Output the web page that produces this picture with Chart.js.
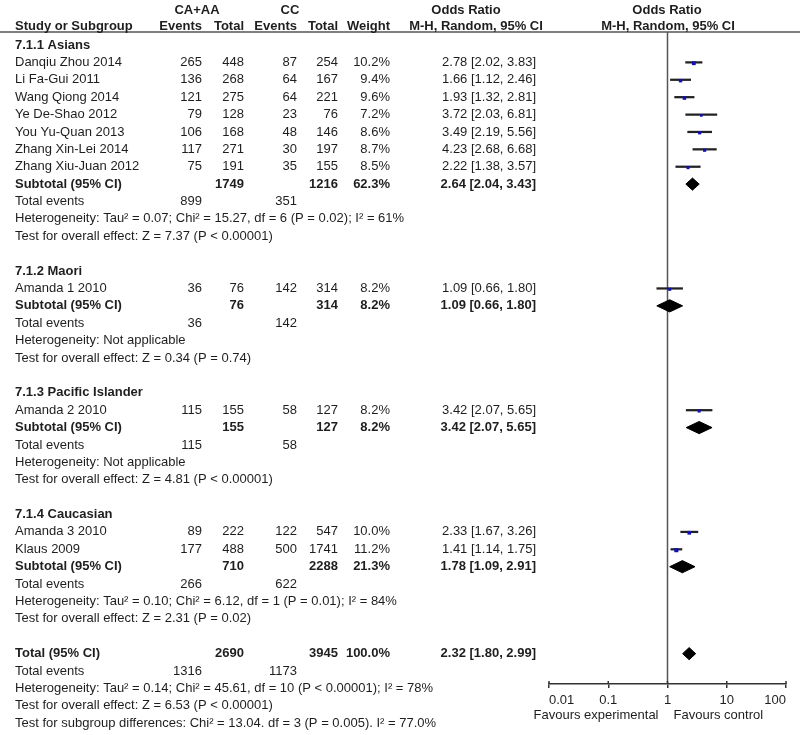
<!DOCTYPE html>
<html>
<head>
<meta charset="utf-8">
<title>Forest plot</title>
<script src="https://cdn.jsdelivr.net/npm/chart.js@4.4.1/dist/chart.umd.min.js"></script>
<style>
  html, body { margin: 0; padding: 0; background: #fff; }
  #wrap { width: 800px; height: 735px; }
</style>
</head>
<body>
<div id="wrap"><canvas id="forest" width="800" height="735"></canvas></div>
<script>
// ---- data ----
const groupNames = ["7.1.1 Asians", "7.1.2 Maori", "7.1.3 Pacific Islander", "7.1.4 Caucasian"];

const studyNames = [
    "Danqiu Zhou 2014", "Li Fa-Gui 2011", "Wang Qiong 2014", "Ye De-Shao 2012",
    "You Yu-Quan 2013", "Zhang Xin-Lei 2014", "Zhang Xiu-Juan 2012",
    "Amanda 1 2010", "Amanda 2 2010", "Amanda 3 2010", "Klaus 2009"
];
const studyGroup = [0, 0, 0, 0, 0, 0, 0, 1, 2, 3, 3];
const expEvents = [265, 136, 121, 79, 106, 117, 75, 36, 115, 89, 177];
const expTotal = [448, 268, 275, 128, 168, 271, 191, 76, 155, 222, 488];
const ctlEvents = [87, 64, 64, 23, 48, 30, 35, 142, 58, 122, 500];
const ctlTotal = [254, 167, 221, 76, 146, 197, 155, 314, 127, 547, 1741];
const weights = [10.2, 9.4, 9.6, 7.2, 8.6, 8.7, 8.5, 8.2, 8.2, 10.0, 11.2];
const orEst = [2.78, 1.66, 1.93, 3.72, 3.49, 4.23, 2.22, 1.09, 3.42, 2.33, 1.41];
const orLow = [2.02, 1.12, 1.32, 2.03, 2.19, 2.68, 1.38, 0.66, 2.07, 1.67, 1.14];
const orHigh = [3.83, 2.46, 2.81, 6.81, 5.56, 6.68, 3.57, 1.80, 5.65, 3.26, 1.75];

const groupExpTotal = [1749, 76, 155, 710];
const groupCtlTotal = [1216, 314, 127, 2288];
const groupWeight = [62.3, 8.2, 8.2, 21.3];
const groupExpEvents = [899, 36, 115, 266];
const groupCtlEvents = [351, 142, 58, 622];
const groupEst = [2.64, 1.09, 3.42, 1.78];
const groupLow = [2.04, 0.66, 2.07, 1.09];
const groupHigh = [3.43, 1.80, 5.65, 2.91];
const groupHet = [
    "Heterogeneity: Tau\u00b2 = 0.07; Chi\u00b2 = 15.27, df = 6 (P = 0.02); I\u00b2 = 61%",
    "Heterogeneity: Not applicable",
    "Heterogeneity: Not applicable",
    "Heterogeneity: Tau\u00b2 = 0.10; Chi\u00b2 = 6.12, df = 1 (P = 0.01); I\u00b2 = 84%"
];
const groupTest = [
    "Test for overall effect: Z = 7.37 (P < 0.00001)",
    "Test for overall effect: Z = 0.34 (P = 0.74)",
    "Test for overall effect: Z = 4.81 (P < 0.00001)",
    "Test for overall effect: Z = 2.31 (P = 0.02)"
];

const totalExpTotal = 2690;
const totalCtlTotal = 3945;
const totalWeight = 100.0;
const totalExpEvents = 1316;
const totalCtlEvents = 1173;
const totalEst = 2.32;
const totalLow = 1.80;
const totalHigh = 2.99;
const totalHet = "Heterogeneity: Tau\u00b2 = 0.14; Chi\u00b2 = 45.61, df = 10 (P < 0.00001); I\u00b2 = 78%";
const totalTest = "Test for overall effect: Z = 6.53 (P < 0.00001)";
const subgroupTest = "Test for subgroup differences: Chi\u00b2 = 13.04. df = 3 (P = 0.005). I\u00b2 = 77.0%";

const orTicks = [0.01, 0.1, 1, 10, 100];
const tickLabels = ["0.01", "0.1", "1", "10", "100"];

// ---- row layout ----
const groupRow = [], studyRow = [], subtotalRow = [], eventsRow = [], hetRow = [], testRow = [];
let row = 0;
groupNames.forEach(function (g, gi) {
    groupRow[gi] = row++;
    studyNames.forEach(function (s, i) {
        if (studyGroup[i] === gi) studyRow[i] = row++;
    });
    subtotalRow[gi] = row++;
    eventsRow[gi] = row++;
    hetRow[gi] = row++;
    testRow[gi] = row++;
    row++;
});
const totalRow = row++;
const totalEventsRow = row++;
const totalHetRow = row++;
const totalTestRow = row++;
const subgroupRow = row++;

const ROW0 = 45, ROW_H = 17.39;
const PLOT_TOP = 32, PLOT_BOTTOM = 684;
const DIAMOND_H = 0.35;

function fmtOR(e, l, h) {
    return e.toFixed(2) + " [" + l.toFixed(2) + ", " + h.toFixed(2) + "]";
}

function diamond(e, l, h, r) {
    return [
        { x: l, y: r }, { x: e, y: r - DIAMOND_H }, { x: h, y: r },
        { x: e, y: r + DIAMOND_H }, { x: l, y: r }
    ];
}

const datasets = [];

datasets.push({
    type: "bar",
    indexAxis: "y",
    data: studyNames.map(function (s, i) {
        return { x: [orLow[i], orHigh[i]], y: studyRow[i] };
    }),
    backgroundColor: "#222",
    borderWidth: 0,
    barThickness: 1.6,
    order: 2
});

datasets.push({
    type: "scatter",
    data: studyNames.map(function (s, i) {
        return { x: orEst[i], y: studyRow[i] + 0.05 };
    }),
    pointStyle: "rect",
    pointRadius: weights.map(function (w) { return w * 0.26; }),
    backgroundColor: "#1010b4",
    borderColor: "#1010b4",
    borderWidth: 0,
    order: 0
});

groupNames.forEach(function (g, gi) {
    datasets.push({
        type: "scatter",
        data: diamond(groupEst[gi], groupLow[gi], groupHigh[gi], subtotalRow[gi]),
        showLine: true,
        fill: "shape",
        backgroundColor: "#000",
        borderColor: "#000",
        borderWidth: 1,
        pointRadius: 0,
        order: 1
    });
});

datasets.push({
    type: "scatter",
    data: diamond(totalEst, totalLow, totalHigh, totalRow),
    showLine: true,
    fill: "shape",
    backgroundColor: "#000",
    borderColor: "#000",
    borderWidth: 1,
    pointRadius: 0,
    order: 1
});

// ---- table text, reference line, header rule ----
const FONT = '"Liberation Sans", Arial, sans-serif';
const COL = { study: 15, expEv: 202, expTot: 244, ctlEv: 297, ctlTot: 338, weight: 390, or: 536 };

const tablePlugin = {
    id: "forestTable",
    beforeDatasetsDraw: function (chart) {
        const ctx = chart.ctx;
        const xs = chart.scales.x;
        const ca = chart.chartArea;
        const x1 = xs.getPixelForValue(1);

        // header rule and line of no effect, under the marks
        ctx.save();
        ctx.strokeStyle = "#555";
        ctx.lineWidth = 1.5;
        ctx.beginPath();
        ctx.moveTo(0, ca.top);
        ctx.lineTo(800, ca.top);
        ctx.moveTo(x1, ca.top);
        ctx.lineTo(x1, ca.bottom);
        ctx.stroke();

        // upper half of the axis tick marks
        ctx.strokeStyle = "#333";
        ctx.beginPath();
        xs.ticks.forEach(function (t) {
            const x = xs.getPixelForValue(t.value);
            ctx.moveTo(x, ca.bottom - 3);
            ctx.lineTo(x, ca.bottom);
        });
        ctx.stroke();
        ctx.restore();
    },
    afterDraw: function (chart) {
        const ctx = chart.ctx;
        const xs = chart.scales.x;
        const ys = chart.scales.y;

        function txt(s, x, y, align, bold) {
            ctx.font = (bold ? "bold " : "") + "13px " + FONT;
            ctx.textAlign = align || "left";
            ctx.fillText(s, x, y);
        }

        ctx.save();
        ctx.fillStyle = "#1e1e1e";
        ctx.textBaseline = "middle";

        // header
        txt("CA+AA", 197, 10, "center", true);
        txt("CC", 290, 10, "center", true);
        txt("Odds Ratio", 466, 10, "center", true);
        txt("Odds Ratio", 667, 10, "center", true);
        txt("Study or Subgroup", COL.study, 26, "left", true);
        txt("Events", COL.expEv, 26, "right", true);
        txt("Total", COL.expTot, 26, "right", true);
        txt("Events", COL.ctlEv, 26, "right", true);
        txt("Total", COL.ctlTot, 26, "right", true);
        txt("Weight", COL.weight, 26, "right", true);
        txt("M-H, Random, 95% CI", 476, 26, "center", true);
        txt("M-H, Random, 95% CI", 668, 26, "center", true);

        groupNames.forEach(function (g, gi) {
            txt(g, COL.study, ys.getPixelForValue(groupRow[gi]), "left", true);

            let y = ys.getPixelForValue(subtotalRow[gi]);
            txt("Subtotal (95% CI)", COL.study, y, "left", true);
            txt(String(groupExpTotal[gi]), COL.expTot, y, "right", true);
            txt(String(groupCtlTotal[gi]), COL.ctlTot, y, "right", true);
            txt(groupWeight[gi].toFixed(1) + "%", COL.weight, y, "right", true);
            txt(fmtOR(groupEst[gi], groupLow[gi], groupHigh[gi]), COL.or, y, "right", true);

            y = ys.getPixelForValue(eventsRow[gi]);
            txt("Total events", COL.study, y);
            txt(String(groupExpEvents[gi]), COL.expEv, y, "right");
            txt(String(groupCtlEvents[gi]), COL.ctlEv, y, "right");

            txt(groupHet[gi], COL.study, ys.getPixelForValue(hetRow[gi]));
            txt(groupTest[gi], COL.study, ys.getPixelForValue(testRow[gi]));
        });

        studyNames.forEach(function (s, i) {
            const y = ys.getPixelForValue(studyRow[i]);
            txt(s, COL.study, y);
            txt(String(expEvents[i]), COL.expEv, y, "right");
            txt(String(expTotal[i]), COL.expTot, y, "right");
            txt(String(ctlEvents[i]), COL.ctlEv, y, "right");
            txt(String(ctlTotal[i]), COL.ctlTot, y, "right");
            txt(weights[i].toFixed(1) + "%", COL.weight, y, "right");
            txt(fmtOR(orEst[i], orLow[i], orHigh[i]), COL.or, y, "right");
        });

        let y = ys.getPixelForValue(totalRow);
        txt("Total (95% CI)", COL.study, y, "left", true);
        txt(String(totalExpTotal), COL.expTot, y, "right", true);
        txt(String(totalCtlTotal), COL.ctlTot, y, "right", true);
        txt(totalWeight.toFixed(1) + "%", COL.weight, y, "right", true);
        txt(fmtOR(totalEst, totalLow, totalHigh), COL.or, y, "right", true);

        y = ys.getPixelForValue(totalEventsRow);
        txt("Total events", COL.study, y);
        txt(String(totalExpEvents), COL.expEv, y, "right");
        txt(String(totalCtlEvents), COL.ctlEv, y, "right");
        txt(totalHet, COL.study, ys.getPixelForValue(totalHetRow));
        txt(totalTest, COL.study, ys.getPixelForValue(totalTestRow));
        txt(subgroupTest, COL.study, ys.getPixelForValue(subgroupRow));

        // favours labels
        const x1 = xs.getPixelForValue(1);
        txt("Favours experimental", x1 - 9, 715, "right");
        txt("Favours control", x1 + 6, 715, "left");
        ctx.restore();
    }
};

new Chart(document.getElementById("forest"), {
    type: "scatter",
    data: { datasets: datasets },
    options: {
        responsive: false,
        animation: false,
        layout: {
            padding: { left: 549, right: 14, top: PLOT_TOP, bottom: 735 - PLOT_BOTTOM - 50 }
        },
        plugins: {
            legend: { display: false },
            tooltip: { enabled: false }
        },
        scales: {
            x: {
                type: "logarithmic",
                min: 0.01,
                max: 100,
                offset: false,
                afterBuildTicks: function (scale) {
                    scale.ticks = orTicks.map(function (v) { return { value: v }; });
                },
                afterFit: function (scale) {
                    scale.height = 50;
                },
                grid: {
                    drawOnChartArea: false,
                    drawTicks: true,
                    tickLength: 4,
                    color: "#333",
                    lineWidth: 1.5
                },
                border: { color: "#333", width: 1.5 },
                ticks: {
                    align: "inner",
                    maxRotation: 0,
                    autoSkip: false,
                    padding: 5,
                    color: "#1e1e1e",
                    font: { family: FONT, size: 13 },
                    callback: function (v, i) { return tickLabels[i]; }
                }
            },
            y: {
                type: "linear",
                display: false,
                reverse: true,
                offset: false,
                min: (PLOT_TOP - ROW0) / ROW_H,
                max: (PLOT_BOTTOM - ROW0) / ROW_H
            }
        }
    },
    plugins: [tablePlugin]
});
</script>
</body>
</html>
